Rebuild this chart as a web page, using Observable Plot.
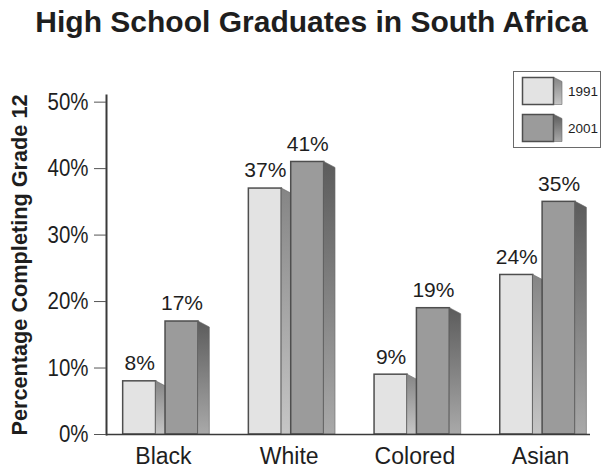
<!DOCTYPE html>
<html>
<head>
<meta charset="utf-8">
<script src="https://cdn.jsdelivr.net/npm/d3@7"></script>
<script src="https://cdn.jsdelivr.net/npm/@observablehq/plot@0.6"></script>
<style>
  html, body { margin: 0; padding: 0; background: #fff; }
  body { width: 606px; height: 470px; position: relative; overflow: hidden; font-family: "Liberation Sans", Arial, sans-serif; color: #1e1e1e; }
  #title { height: 48px; box-sizing: border-box; padding-top: 7px; padding-left: 17px; font-size: 30px; line-height: 30px; font-weight: bold; text-align: center; white-space: nowrap; }
  #legend { position: absolute; left: 513px; top: 71px; width: 88px; height: 77px; border: 1px solid #6a6a6a; background: #fff; box-sizing: border-box; }
  #legend svg { display: block; }
</style>
</head>
<body>
<div id="title">High School Graduates in South Africa</div>
<div id="chart"></div>
<div id="legend"></div>
<script>
// ---- data ----
const categories = ["Black", "White", "Colored", "Asian"];
const years = ["1991", "2001"];
const values1991 = [8, 37, 9, 24];
const values2001 = [17, 41, 19, 35];
const yTicks = [0, 10, 20, 30, 40, 50];
const yLabel = "Percentage Completing Grade 12";

// ---- geometry (index units on a linear x scale) ----
const barW = 0.2625, depth = 0.09, drop = 0.9;
const offsets = {"1991": -0.297, "2001": 0.040};
const fills = {"1991": "#e3e3e3", "2001": "#9b9b9b"};

const bars = years.flatMap((yr, k) => categories.map((c, i) => {
  const v = (k === 0 ? values1991 : values2001)[i];
  const x1 = i + offsets[yr];
  return {year: yr, cat: c, i, v, x1, x2: x1 + barW};
}));
const sides = bars.flatMap(d => [
  {key: d.year + d.cat, year: d.year, x: d.x2, y2: d.v},
  {key: d.year + d.cat, year: d.year, x: d.x2 + depth, y2: d.v - drop}
]);

const defs = () => {
  const g = d3.create("svg:defs");
  g.html(`
    <linearGradient id="g1991" x1="0" y1="0" x2="0" y2="1">
      <stop offset="0" stop-color="#858585"/><stop offset="1" stop-color="#c6c6c6"/>
    </linearGradient>
    <linearGradient id="g2001" x1="0" y1="0" x2="0" y2="1">
      <stop offset="0" stop-color="#5c5c5c"/><stop offset="1" stop-color="#a9a9a9"/>
    </linearGradient>`);
  return g.node();
};

const marks = [defs];
for (const yr of years) {
  marks.push(Plot.rectY(bars.filter(d => d.year === yr), {
    x1: "x1", x2: "x2", y1: 0, y2: "v", fill: fills[yr], stroke: "#4e4e4e", strokeWidth: 1.5
  }));
  marks.push(Plot.areaY(sides.filter(d => d.year === yr), {
    x: "x", y1: 0, y2: "y2", z: "key", fill: `url(#g${yr})`, stroke: "#6a6a6a", strokeWidth: 0.6
  }));
}

const chart = Plot.plot({
  width: 606,
  height: 422,
  marginLeft: 106,
  marginRight: 16,
  marginTop: 47,
  marginBottom: 36,
  style: {fontFamily: "Liberation Sans, Arial, sans-serif", color: "#1e1e1e", background: "#fff", overflow: "visible"},
  x: {type: "linear", domain: [-0.4296, 3.421], axis: null},
  y: {domain: [0, 51]},
  marks: [
    ...marks,
    Plot.ruleY([0], {stroke: "#3a3a3a", strokeWidth: 1.5}),
    Plot.frame({anchor: "left", stroke: "#3a3a3a", strokeWidth: 2}),
    Plot.axisY(yTicks, {
      tickSize: 12, tickPadding: 6, tickFormat: d => d + "%",
      fontSize: 23.5, stroke: "#555", fill: "#1e1e1e", label: null
    }),
    Plot.text(bars, {
      x: d => d.x1 + barW / 2, y: "v", text: d => d.v + "%",
      lineAnchor: "top", dy: -26, fontSize: 21, fill: "#1e1e1e"
    }),
    Plot.text(categories, {
      x: (d, i) => i, frameAnchor: "bottom", text: d => d,
      lineAnchor: "top", dy: 13, dx: 3, fontSize: 23, fill: "#1e1e1e"
    }),
    Plot.text([yLabel], {
      frameAnchor: "left", rotate: -90, dx: -86, text: d => d, textAnchor: "middle",
      fontWeight: "bold", fontSize: 21.7, fill: "#1e1e1e"
    })
  ]
});
document.getElementById("chart").appendChild(chart);

// condense text (narrow face emulation)
function condense(nodes, ratio) {
  nodes.forEach(t => {
    const w = t.getComputedTextLength();
    if (w > 0) {
      t.setAttribute("textLength", (w * ratio).toFixed(2));
      t.setAttribute("lengthAdjust", "spacingAndGlyphs");
    }
  });
}
condense(chart.querySelectorAll('g[aria-label="y-axis tick label"] text'), 0.87);

// ---- legend ----
const leg = d3.select("#legend").append("svg").attr("width", 86).attr("height", 75);
leg.append("defs").html(`
  <linearGradient id="lg1991" x1="0" y1="0" x2="0" y2="1">
    <stop offset="0" stop-color="#858585"/><stop offset="1" stop-color="#c6c6c6"/>
  </linearGradient>
  <linearGradient id="lg2001" x1="0" y1="0" x2="0" y2="1">
    <stop offset="0" stop-color="#5c5c5c"/><stop offset="1" stop-color="#a9a9a9"/>
  </linearGradient>`);
years.forEach((yr, k) => {
  const top = 5 + k * 37;
  const g = leg.append("g");
  g.append("rect").attr("x", 8.5).attr("y", top + 0.5).attr("width", 31).attr("height", 27)
    .attr("fill", fills[yr]).attr("stroke", "#4e4e4e").attr("stroke-width", 1.5);
  g.append("path").attr("d", `M40,${top + 0.5}L48,${top + 4.5}L48,${top + 27.5}L40,${top + 27.5}Z`)
    .attr("fill", `url(#lg${yr})`).attr("stroke", "#6a6a6a").attr("stroke-width", 0.6);
  g.append("text").attr("x", 54).attr("y", top + 19).text(yr)
    .attr("font-family", "Liberation Sans, Arial, sans-serif")
    .attr("font-size", 13.5).attr("fill", "#1e1e1e");
});
</script>
</body>
</html>
